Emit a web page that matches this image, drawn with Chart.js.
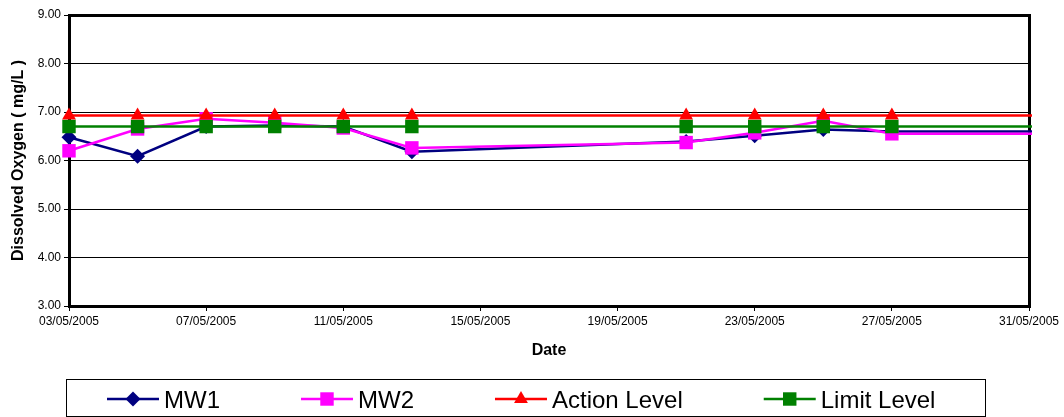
<!DOCTYPE html>
<html>
<head>
<meta charset="utf-8">
<script src="https://cdn.jsdelivr.net/npm/chart.js@4.4.1/dist/chart.umd.min.js"></script>
<style>
  body { margin: 0; background: #fff; }
  #wrap { width: 1064px; height: 417px; }
</style>
</head>
<body>
<div id="wrap"><canvas id="doChart" width="1064" height="417"></canvas></div>
<script>
// sampling days in May 2005 (x axis is day of month)
const sampleDays = [3, 5, 7, 9, 11, 13, 21, 23, 25, 27];
const mw1Values = [6.48, 6.09, 6.70, 6.72, 6.70, 6.18, 6.39, 6.51, 6.64, 6.60];
const mw2Values = [6.20, 6.65, 6.86, 6.78, 6.67, 6.26, 6.37, 6.57, 6.82, 6.55];
const actionLevel = [6.93, 6.93, 6.93, 6.93, 6.93, 6.93, 6.93, 6.93, 6.93, 6.93];
const limitLevel = [6.70, 6.70, 6.70, 6.70, 6.70, 6.70, 6.70, 6.70, 6.70, 6.70];
// the lines run on past the end of the axis
const tailDay = 33;
const xTickDays = [3, 7, 11, 15, 19, 23, 27, 31];
const yTickValues = [3, 4, 5, 6, 7, 8, 9];

const FONT = '"Liberation Sans", Arial, sans-serif';
const ctx = document.getElementById("doChart");

const toPoints = (values) => {
  const pts = sampleDays.map((d, i) => ({ x: d, y: values[i] }));
  pts.push({ x: tailDay, y: values[values.length - 1] });
  return pts;
};
const radii = (r) => sampleDays.map(() => r).concat([0]);

const makeSet = (label, values, color, style, r, order) => ({
  label: label,
  data: toPoints(values),
  borderColor: color,
  backgroundColor: color,
  borderWidth: 2.5,
  pointStyle: style,
  pointRadius: radii(r),
  pointHoverRadius: radii(r),
  pointBorderWidth: 0,
  pointBackgroundColor: color,
  tension: 0,
  order: order,
  clip: { left: 12, top: 12, right: 3, bottom: 12 },
});

const pad2 = (n) => (n < 10 ? "0" + n : "" + n);

const drawMarker = (c, style, x, y, r, color) => {
  c.fillStyle = color;
  c.beginPath();
  if (style === "rectRot") {
    c.moveTo(x, y - r);
    c.lineTo(x + r, y);
    c.lineTo(x, y + r);
    c.lineTo(x - r, y);
  } else if (style === "rect") {
    const s = r * Math.SQRT1_2;
    c.rect(x - s, y - s, 2 * s, 2 * s);
  } else if (style === "triangle") {
    for (let k = 0; k < 3; k++) {
      const a = (k * 2 * Math.PI) / 3;
      const px = x + Math.sin(a) * r;
      const py = y - Math.cos(a) * r;
      if (k === 0) c.moveTo(px, py);
      else c.lineTo(px, py);
    }
  }
  c.closePath();
  c.fill();
};

// thick frame around the plot area
const frame = {
  id: "frame",
  beforeDatasetsDraw(chart) {
    const { ctx: c, chartArea: a } = chart;
    c.save();
    c.strokeStyle = "#000";
    c.lineWidth = 3;
    c.strokeRect(a.left + 0.5, a.top + 0.5, a.right - a.left, a.bottom - a.top);
    c.restore();
  },
};

// Excel style legend box under the chart
const boxLegend = {
  id: "boxLegend",
  afterDraw(chart) {
    const c = chart.ctx;
    c.save();
    c.strokeStyle = "#000";
    c.lineWidth = 1;
    c.strokeRect(66.5, 379.5, 919, 37);
    c.font = "24px " + FONT;
    c.textBaseline = "alphabetic";
    c.fillStyle = "#000";
    let x = 107;
    const y = 399;
    chart.data.datasets.forEach((ds) => {
      c.strokeStyle = ds.borderColor;
      c.lineWidth = 2.5;
      c.beginPath();
      c.moveTo(x, y);
      c.lineTo(x + 52, y);
      c.stroke();
      drawMarker(c, ds.pointStyle, x + 26, y, ds.pointRadius[0], ds.borderColor);
      c.fillStyle = "#000";
      c.fillText(ds.label, x + 57, y + 9);
      x += 57 + c.measureText(ds.label).width + 81;
    });
    c.restore();
  },
};

const chart = new Chart(ctx, {
  type: "line",
  data: {
    datasets: [
      makeSet("MW1", mw1Values, "#000080", "rectRot", 7.5, 4),
      makeSet("MW2", mw2Values, "#FF00FF", "rect", 9.5, 3),
      makeSet("Action Level", actionLevel, "#FF0000", "triangle", 8, 2),
      makeSet("Limit Level", limitLevel, "#008000", "rect", 9.5, 1),
    ],
  },
  options: {
    responsive: false,
    animation: false,
    devicePixelRatio: 1,
    layout: { padding: { left: 0, right: 35, top: 15, bottom: 57 } },
    plugins: {
      legend: { display: false },
      tooltip: { enabled: false },
    },
    scales: {
      x: {
        type: "linear",
        min: 3,
        max: 31,
        afterBuildTicks: (scale) => {
          scale.ticks = xTickDays.map((d) => ({ value: d }));
        },
        afterFit: (scale) => {
          scale.height = 54;
        },
        grid: {
          drawOnChartArea: false,
          drawTicks: true,
          tickLength: 5,
          tickColor: "#000",
          tickWidth: 1,
        },
        border: { display: false },
        ticks: {
          autoSkip: false,
          maxRotation: 0,
          padding: 3,
          color: "#000",
          font: { family: FONT, size: 12 },
          callback: (v) => pad2(v) + "/05/2005",
        },
        title: {
          display: true,
          text: "Date",
          color: "#000",
          font: { family: FONT, size: 16, weight: "bold" },
          padding: { top: 0, bottom: 0 },
        },
      },
      y: {
        min: 3,
        max: 9,
        afterBuildTicks: (scale) => {
          scale.ticks = yTickValues.map((v) => ({ value: v }));
        },
        afterFit: (scale) => {
          scale.width = 69;
        },
        grid: {
          color: "#000",
          lineWidth: 1,
          tickLength: 5,
          tickColor: "#000",
        },
        border: { display: false },
        ticks: {
          padding: 3,
          color: "#000",
          font: { family: FONT, size: 12 },
          callback: (v) => Number(v).toFixed(2),
        },
        title: {
          display: true,
          text: "Dissolved Oxygen ( mg/L )",
          color: "#000",
          font: { family: FONT, size: 16, weight: "bold" },
          padding: { top: 9, bottom: 0 },
        },
      },
    },
  },
  plugins: [frame, boxLegend],
});
</script>
</body>
</html>
